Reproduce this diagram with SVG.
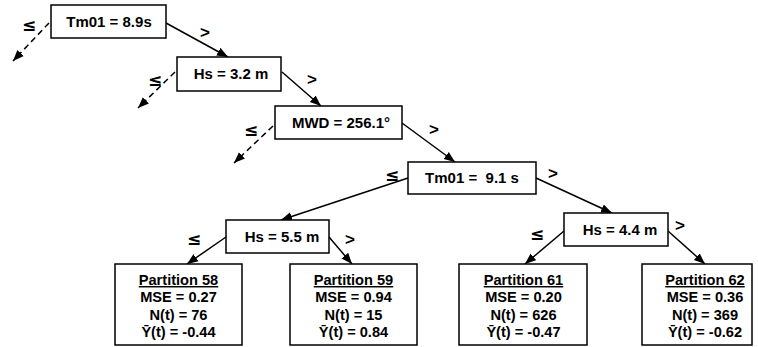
<svg xmlns="http://www.w3.org/2000/svg" width="758" height="347" viewBox="0 0 758 347">
<style>
.box{fill:#fff;stroke:#000;stroke-width:1.5}
.t{font-family:"Liberation Sans",Arial,sans-serif;font-weight:bold;font-size:15px;fill:#000;text-anchor:middle;white-space:pre}
.p{font-family:"Liberation Sans",Arial,sans-serif;font-weight:bold;font-size:14.6px;fill:#000;text-anchor:middle}
.lbl{font-family:"Liberation Sans",Arial,sans-serif;font-weight:bold;font-size:17px;fill:#000;text-anchor:middle}
.le{font-family:"DejaVu Sans","Liberation Sans",sans-serif;font-weight:bold;font-size:17px;fill:#000;text-anchor:middle}
.ln{stroke:#000;stroke-width:1.5;fill:none;marker-end:url(#ah)}
.dash{stroke-dasharray:6,4}
</style>
<defs>
<marker id="ah" viewBox="0 0 10 10" refX="10" refY="5" markerWidth="11" markerHeight="11" markerUnits="userSpaceOnUse" orient="auto">
<path d="M0,1 L10,5 L0,9 Z" fill="#000"/>
</marker>
</defs>
<rect width="758" height="347" fill="#fff"/>
<g id="connectors">
<line class="ln" x1="166" y1="23" x2="228" y2="57"/>
<line class="ln dash" x1="49" y1="23" x2="13" y2="61"/>
<line class="ln dash" x1="175" y1="72" x2="138" y2="108"/>
<line class="ln" x1="282" y1="72" x2="321" y2="106"/>
<line class="ln dash" x1="273" y1="126" x2="234" y2="163"/>
<line class="ln" x1="402" y1="123" x2="455" y2="162"/>
<line class="ln" x1="408" y1="178" x2="281" y2="220"/>
<line class="ln" x1="536" y1="178" x2="612" y2="213"/>
<line class="ln" x1="564" y1="231" x2="525" y2="264"/>
<line class="ln" x1="668" y1="231" x2="705" y2="264"/>
<line class="ln" x1="226" y1="237" x2="187" y2="264"/>
<line class="ln" x1="329" y1="237" x2="352" y2="264"/>
<g id="labels">
<text class="le" x="29" y="31">≤</text>
<text class="lbl" x="205" y="38">&gt;</text>
<text class="le" x="155" y="86">≤</text>
<text class="lbl" x="312" y="85">&gt;</text>
<text class="le" x="251" y="136">≤</text>
<text class="lbl" x="434" y="135">&gt;</text>
<text class="le" x="392" y="181">≤</text>
<text class="lbl" x="553" y="179">&gt;</text>
<text class="le" x="537" y="240">≤</text>
<text class="lbl" x="680" y="231">&gt;</text>
<text class="le" x="194" y="245">≤</text>
<text class="lbl" x="350" y="245">&gt;</text>
</g>
</g>
<g id="n1"><rect class="box" x="51" y="5" width="115" height="33"/><text class="t" x="109" y="27">Tm01 = 8.9s</text></g>
<g id="n2"><rect class="box" x="177" y="57" width="104" height="34"/><text class="t" x="231" y="79">Hs = 3.2 m</text></g>
<g id="n3"><rect class="box" x="275" y="106" width="127" height="33"/><text class="t" x="341" y="128">MWD = 256.1°</text></g>
<g id="n4"><rect class="box" x="408" y="162" width="128" height="32"/><text class="t" x="472" y="183">Tm01 =  9.1 s</text></g>
<g id="n5"><rect class="box" x="564" y="213" width="104" height="33"/><text class="t" x="620" y="235">Hs = 4.4 m</text></g>
<g id="n6"><rect class="box" x="226" y="220" width="103" height="33"/><text class="t" x="282" y="242">Hs = 5.5 m</text></g>
<g id="p58"><rect class="box" x="115" y="264" width="127" height="81"/>
<text class="p" x="178.5" y="285" text-decoration="underline">Partition 58</text>
<text class="p" x="178.5" y="302">MSE = 0.27</text>
<text class="p" x="178.5" y="320">N(t) = 76</text>
<text class="p" x="178.5" y="337">Ȳ(t) = -0.44</text></g>
<g id="p59"><rect class="box" x="290" y="264" width="127" height="81"/>
<text class="p" x="353.5" y="285" text-decoration="underline">Partition 59</text>
<text class="p" x="353.5" y="302">MSE = 0.94</text>
<text class="p" x="353.5" y="320">N(t) = 15</text>
<text class="p" x="353.5" y="337">Ȳ(t) = 0.84</text></g>
<g id="p61"><rect class="box" x="459" y="264" width="128" height="81"/>
<text class="p" x="523.5" y="285" text-decoration="underline">Partition 61</text>
<text class="p" x="523.5" y="302">MSE = 0.20</text>
<text class="p" x="523.5" y="320">N(t) = 626</text>
<text class="p" x="523.5" y="337">Ȳ(t) = -0.47</text></g>
<g id="p62"><rect class="box" x="642" y="264" width="110" height="81"/>
<text class="p" x="705" y="285" text-decoration="underline">Partition 62</text>
<text class="p" x="705" y="302">MSE = 0.36</text>
<text class="p" x="705" y="320">N(t) = 369</text>
<text class="p" x="705" y="337">Ȳ(t) = -0.62</text></g>
</svg>
